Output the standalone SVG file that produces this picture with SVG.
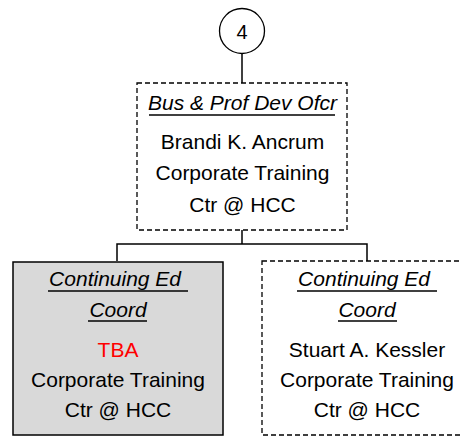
<svg xmlns="http://www.w3.org/2000/svg" width="460" height="437" viewBox="0 0 460 437">
<style>
text{font-family:"Liberation Sans",Arial,sans-serif;font-size:21px;fill:#000;text-anchor:middle}
.t{font-style:italic}
.red{fill:#ff0000}
.ul{stroke:#000;stroke-width:1.5}
.dash{fill:#fff;stroke:#000;stroke-width:1.3;stroke-dasharray:5,3}
.conn{fill:none;stroke:#000;stroke-width:1.5}
</style>
<rect width="460" height="437" fill="#fff"/>
<g id="connectors">
<line class="conn" x1="242" y1="53" x2="242" y2="83"/>
<polyline class="conn" points="117,261 117,244 367,244 367,261"/>
<line class="conn" x1="242" y1="230" x2="242" y2="244"/>
</g>
<g id="node-4">
<circle cx="242" cy="31" r="22.5" fill="#fff" stroke="#000" stroke-width="1.3"/>
<text x="242" y="38.5" style="font-size:20px">4</text>
</g>
<g id="node-bus">
<rect class="dash" x="137" y="83" width="210" height="147"/>
<text class="t" x="242.5" y="110">Bus &amp; Prof Dev Ofcr</text>
<line class="ul" x1="149" y1="115" x2="335" y2="115"/>
<text x="242.5" y="149">Brandi K. Ancrum</text>
<text x="242.5" y="180">Corporate Training</text>
<text x="242.5" y="212">Ctr @ HCC</text>
</g>
<g id="node-ce1">
<rect x="13" y="262" width="210" height="173" fill="#d9d9d9" stroke="#000" stroke-width="1.5"/>
<text class="t" x="118" y="286" xml:space="preserve">Continuing Ed </text>
<line class="ul" x1="48" y1="291" x2="188" y2="291"/>
<text class="t" x="118" y="317">Coord</text>
<line class="ul" x1="88" y1="321" x2="147" y2="321"/>
<text class="red" x="118" y="357">TBA</text>
<text x="118" y="387">Corporate Training</text>
<text x="118" y="417">Ctr @ HCC</text>
</g>
<g id="node-ce2">
<rect class="dash" x="262" y="261" width="240" height="174"/>
<text class="t" x="367" y="286" xml:space="preserve">Continuing Ed </text>
<line class="ul" x1="297" y1="291" x2="437" y2="291"/>
<text class="t" x="367" y="317">Coord</text>
<line class="ul" x1="338" y1="321" x2="397" y2="321"/>
<text x="367" y="357">Stuart A. Kessler</text>
<text x="367" y="387">Corporate Training</text>
<text x="367" y="417">Ctr @ HCC</text>
</g>
</svg>
